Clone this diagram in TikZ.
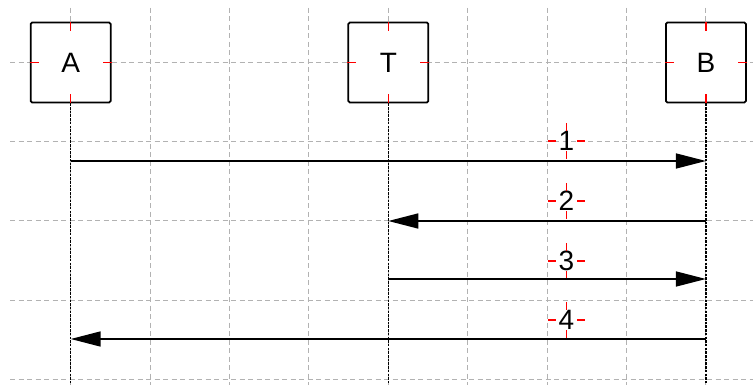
\documentclass[tikz,border=0pt]{standalone}
\usepackage{fontspec}
\setmainfont{Liberation Sans}
\usetikzlibrary{arrows.meta}
\begin{document}
\begin{tikzpicture}[x=1pt,y=-1pt,
  gridline/.style={draw=black!30, dash pattern=on 5pt off 3.5pt, line width=1pt},
  actor/.style={draw=black, line width=1.8pt, fill=white, minimum size=80pt, inner sep=0pt, rounded corners=1.5pt, font=\fontsize{28}{32}\selectfont},
  msglabel/.style={minimum width=36pt, minimum height=35pt, inner sep=0pt, font=\fontsize{28}{32}\selectfont},
  lifeline/.style={line width=1.4pt, dash pattern=on 2.5pt off 1.2pt},
  msg/.style={line width=1.6pt, -{Triangle[length=30pt,width=15pt]}},
  redtick/.style={draw=red, line width=1.4pt}]
\useasboundingbox (0,0) rectangle (753,385);
\fill[white] (0,0) rectangle (753,385);
% grid
\foreach \i in {0,...,8} \draw[gridline] ({70.7+79.4*\i},8) -- ({70.7+79.4*\i},385);
\foreach \j in {0,...,4} \draw[gridline] (10,{62.5+79.2*\j}) -- (753,{62.5+79.2*\j});
% actors
\node[actor] (A) at (70.7,62.5) {A};
\node[actor] (T) at (388.3,62.5) {T};
\node[actor] (B) at (705.9,62.5) {B};
% lifeline ends
\coordinate (Aend) at (70.7,385);
\coordinate (Tend) at (388.3,385);
\coordinate (Bend) at (705.9,385);
\draw[lifeline] (A.south) -- (Aend);
\draw[lifeline] (T.south) -- (Tend);
\draw[lifeline] (B.south) -- (Bend);
% anchor ticks on actors
\foreach \n in {A,T,B} {
  \draw[redtick] (\n.north) -- ++(0,9);
  \draw[redtick] (\n.south) -- ++(0,-9);
  \draw[redtick] (\n.west) -- ++(9,0);
  \draw[redtick] (\n.east) -- ++(-9,0);
}
% message points on lifelines
\coordinate (m1s) at (70.7,161);
\coordinate (m1e) at (705.9,161);
\coordinate (m2s) at (705.9,221);
\coordinate (m2e) at (388.3,221);
\coordinate (m3s) at (388.3,279);
\coordinate (m3e) at (705.9,279);
\coordinate (m4s) at (705.9,339);
\coordinate (m4e) at (70.7,339);
% labels
\node[msglabel] (L1) at (566.5,141) {1};
\node[msglabel] (L2) at (566.5,201) {2};
\node[msglabel] (L3) at (566.5,261) {3};
\node[msglabel] (L4) at (566.5,320) {4};
\foreach \n in {L1,L2,L3,L4} {
  \draw[redtick] (\n.north) -- ++(0,8);
  \draw[redtick] (\n.south) -- ++(0,-8);
  \draw[redtick] (\n.west) -- ++(8,0);
  \draw[redtick] (\n.east) -- ++(-8,0);
}
% messages
\draw[msg] (m1s) -- (m1e);
\draw[msg] (m2s) -- (m2e);
\draw[msg] (m3s) -- (m3e);
\draw[msg] (m4s) -- (m4e);
\end{tikzpicture}
\end{document}
